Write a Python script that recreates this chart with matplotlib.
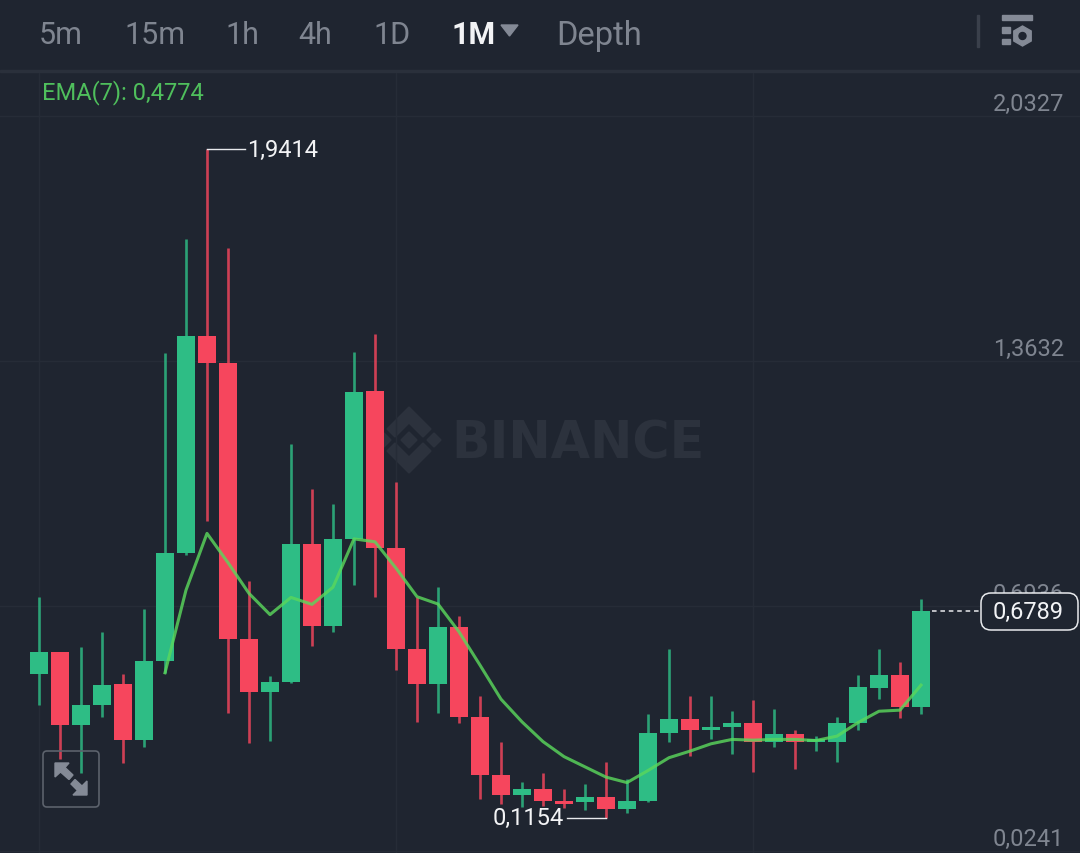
from matplotlib.patches import Circle, FancyBboxPatch, Polygon, Rectangle
from matplotlib.pyplot import figure, rcParams, savefig

# monthly candles
opens = [0.509, 0.568, 0.368, 0.423, 0.480, 0.327, 0.543, 0.838, 1.432, 1.358, 0.603,
         0.459, 0.487, 0.862, 0.640, 0.878, 1.281, 0.853, 0.576, 0.480, 0.637, 0.390,
         0.232, 0.177, 0.194, 0.160, 0.159, 0.171, 0.140, 0.162, 0.347, 0.384, 0.355,
         0.362, 0.374, 0.321, 0.345, 0.321, 0.321, 0.374, 0.470, 0.506, 0.418]
highs = [0.718, 0.568, 0.582, 0.623, 0.508, 0.685, 1.385, 1.697, 1.9414, 1.672, 0.762,
         0.502, 1.137, 1.013, 0.972, 1.387, 1.437, 1.033, 0.719, 0.745, 0.667, 0.448,
         0.321, 0.213, 0.236, 0.193, 0.208, 0.267, 0.222, 0.398, 0.575, 0.447, 0.448,
         0.406, 0.436, 0.411, 0.355, 0.337, 0.391, 0.506, 0.576, 0.541, 0.713]
lows = [0.423, 0.276, 0.238, 0.391, 0.265, 0.309, 0.511, 0.834, 0.926, 0.402, 0.320,
        0.325, 0.483, 0.585, 0.622, 0.751, 0.717, 0.518, 0.376, 0.401, 0.373, 0.165,
        0.153, 0.145, 0.148, 0.142, 0.136, 0.1154, 0.129, 0.157, 0.321, 0.285, 0.329,
        0.290, 0.239, 0.308, 0.249, 0.298, 0.268, 0.354, 0.440, 0.388, 0.399]
closes = [0.568, 0.368, 0.424, 0.479, 0.327, 0.543, 0.838, 1.431, 1.358, 0.603, 0.459,
          0.486, 0.862, 0.640, 0.878, 1.278, 0.853, 0.576, 0.480, 0.637, 0.390, 0.232,
          0.178, 0.194, 0.160, 0.153, 0.172, 0.140, 0.162, 0.347, 0.384, 0.355, 0.363,
          0.374, 0.321, 0.345, 0.321, 0.331, 0.374, 0.471, 0.506, 0.418, 0.6789]

# EMA(7) starts at the seventh candle
ema_start = 6
ema_values = [0.511, 0.737, 0.892, 0.812, 0.728, 0.670, 0.717, 0.698, 0.745, 0.877, 0.869,
              0.797, 0.719, 0.699, 0.623, 0.532, 0.439, 0.377, 0.323, 0.282, 0.254, 0.226,
              0.211, 0.244, 0.279, 0.297, 0.317, 0.329, 0.327, 0.329, 0.329, 0.326, 0.338,
              0.375, 0.406, 0.409, 0.4774]

price_ticks = [2.0327, 1.3632, 0.6936, 0.0241]
price_labels = ["2,0327", "1,3632", "0,6936", "0,0241"]
grid_columns = [0, 17, 34]

tab_labels = ["5m", "15m", "1h", "4h", "1D", "1M", "Depth"]
tab_lefts = [39, 124, 225, 298, 373, 451, 556]
tab_sizes = [22, 22, 22, 22, 22, 22, 23.5]

BG = "#1f2530"
GRID = "#262c37"
UP = "#2ebd85"
DOWN = "#f6465d"
EMA = "#5ad75c"
MUTED = "#7f8590"
ICON = "#848a96"
WATERMARK = "#2c323d"

rcParams["font.family"] = ["Roboto", "DejaVu Sans"]


def pixel_axes(fig, zorder):
    """Axes covering the whole figure, in image pixels, for the app chrome"""
    ax = fig.add_axes([0, 0, 1, 1], zorder=zorder)
    ax.set_xlim(0, 1080)
    ax.set_ylim(854, 0)
    ax.axis("off")
    return ax


def draw_watermark(ax):
    cx, cy = 409, 441
    diamonds = [(0, 0, 8), (-25, 0, 7), (25, 0, 7)]
    for dx, dy, r in diamonds:
        ax.add_patch(Polygon([(cx + dx, cy + dy - r), (cx + dx + r, cy + dy),
                              (cx + dx, cy + dy + r), (cx + dx - r, cy + dy)], color=WATERMARK))
    for sign in (-1, 1):
        ax.add_patch(Polygon([(cx, cy + sign * 33), (cx + 22, cy + sign * 11), (cx + 14, cy + sign * 3),
                              (cx, cy + sign * 17), (cx - 14, cy + sign * 3), (cx - 22, cy + sign * 11)],
                             color=WATERMARK))
    ax.text(451, 459, "BINANCE", family="DejaVu Sans", fontsize=36.5, fontweight="bold",
            color=WATERMARK, ha="left", va="baseline")


def draw_header(ax):
    ax.add_patch(Rectangle((0, 70.5), 1080, 2.5, color="#2a303b"))
    for label, left, size in zip(tab_labels, tab_lefts, tab_sizes):
        active = label == "1M"
        ax.text(left, 44.5, label, fontsize=size, ha="left", va="baseline",
                color="#f2f3f5" if active else MUTED, fontweight="bold" if active else "normal")
    ax.add_patch(Polygon([(501, 26), (518, 26), (509.5, 37)], color=ICON))
    ax.text(42, 99, "EMA(7): 0,4774", fontsize=17, color="#4fbf5c", ha="left", va="baseline")

    # settings icon on the right
    ax.add_patch(Rectangle((977, 16), 2, 32, color="#3a404b"))
    ax.add_patch(Rectangle((1002, 16), 30, 5, color=ICON))
    ax.add_patch(Rectangle((1002, 28), 8, 6, color=ICON))
    ax.add_patch(Rectangle((1002, 40), 8, 5, color=ICON))
    hx, hy, hr = 1022.5, 37, 10
    ax.add_patch(Polygon([(hx, hy - hr), (hx + hr * 0.87, hy - hr / 2), (hx + hr * 0.87, hy + hr / 2),
                          (hx, hy + hr), (hx - hr * 0.87, hy + hr / 2), (hx - hr * 0.87, hy - hr / 2)],
                         color=ICON))
    ax.add_patch(Circle((hx, hy), 3.5, color=BG))


def draw_expand_button(ax):
    ax.add_patch(FancyBboxPatch((45, 754), 52, 52, boxstyle="round,pad=2,rounding_size=4",
                                facecolor="none", edgecolor="#5c626c", linewidth=1.2))
    ax.add_patch(Polygon([(55, 764), (69, 764), (65, 768.5), (73, 776), (69, 780.5), (60.5, 773), (55, 778)],
                         color=ICON))
    ax.add_patch(Polygon([(87, 796), (73, 796), (77.5, 791.5), (71, 785), (75, 780.5), (82, 787), (87, 782)],
                         color=ICON))


def draw_candles(ax):
    for i, (o, h, l, c) in enumerate(zip(opens, highs, lows, closes)):
        colour = UP if c >= o else DOWN
        ax.vlines(i, l, h, color=colour, linewidth=1.9, alpha=0.82, zorder=2)
        ax.bar(i, abs(c - o), bottom=min(o, c), width=0.88, color=colour, zorder=3)
    ax.plot(range(ema_start, len(closes)), ema_values, color=EMA, linewidth=2.2, alpha=0.82, zorder=4)


def draw_annotations(ax):
    peak = highs.index(max(highs))
    ax.plot([peak, peak + 1.8], [highs[peak], highs[peak]], color="#e8eaed", linewidth=1, zorder=5)
    ax.annotate("1,9414", (peak + 1.9, highs[peak]), xytext=(0, 0), textcoords="offset points",
                fontsize=17, color="#f2f3f5", ha="left", va="center", zorder=5)
    trough = lows.index(min(lows))
    ax.plot([trough, trough - 1.85], [lows[trough], lows[trough]], color="#e8eaed", linewidth=1, zorder=5)
    ax.annotate("0,1154", (trough - 2, lows[trough]), xytext=(0, 0), textcoords="offset points",
                fontsize=17, color="#f2f3f5", ha="right", va="center", zorder=5)

    last = len(closes) - 1
    ax.plot([last + 0.5, last + 2.8], [closes[last], closes[last]], color="#e8eaed", linewidth=1.1,
            linestyle=(0, (3, 2.5)), zorder=5)


fig = figure(figsize=(10.8, 8.54), dpi=100, facecolor=BG)

ax_back = pixel_axes(fig, 0)
draw_watermark(ax_back)

ax = fig.add_axes([0, 0, 1, 1], zorder=1)
ax.patch.set_alpha(0)
ax.set_xlim(-1.857, 49.571)
ax.set_ylim(0.0186, 2.3523)
ax.axis("off")

for col in grid_columns:
    ax.axvline(col, ymax=1 - 72 / 854, color=GRID, linewidth=1, zorder=1)
for value, label in zip(price_ticks, price_labels):
    ax.axhline(value, color=GRID, linewidth=1, zorder=1)
    ax.annotate(label, (48.81, value), xytext=(0, 4.6), textcoords="offset points", fontsize=17,
                color=MUTED, ha="right", va="baseline", zorder=2)

draw_candles(ax)
draw_annotations(ax)

ax_top = pixel_axes(fig, 2)
draw_header(ax_top)
draw_expand_button(ax_top)

# current price tag covers the 0,6936 label
ax_top.add_patch(FancyBboxPatch((990, 603), 79, 19, boxstyle="round,pad=9,rounding_size=10",
                                facecolor=BG, edgecolor="#e8eaed", linewidth=1.1))
ax_top.text(1064, 612.5, "0,6789", fontsize=17, color="#f2f3f5", ha="right", va="center")

savefig("out.png", dpi=100, facecolor=BG)
